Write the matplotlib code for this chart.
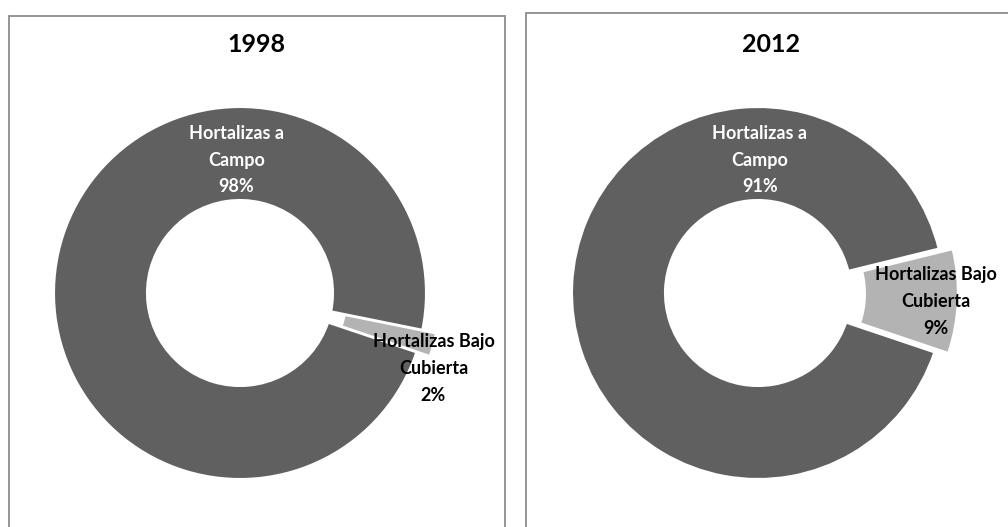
import matplotlib
matplotlib.use("Agg")
import matplotlib.pyplot as plt
import matplotlib.patches as mpatches

plt.rcParams['font.family'] = ['Lato', 'DejaVu Sans']

# data
years = ['1998', '2012']
categories = ['Hortalizas a\nCampo', 'Hortalizas Bajo\nCubierta']
shares = {
	'1998': [98, 2],
	'2012': [91, 9],
}

colors = ['#606060', '#b3b3b3']
W, H = 1008, 527

fig = plt.figure(figsize=(W / 100, H / 100), dpi=100)


def fx(px):
	return px / W


def fy(py):
	# py measured from top
	return 1 - py / H


# panel frames (pixel coords)
panels = [
	{'x0': 9, 'x1': 505, 'top': 16, 'cx': 240, 'title_x': 256},
	{'x0': 526, 'x1': 1016, 'top': 13, 'cx': 758, 'title_x': 771},
]
cy = 293
R = 186  # outer radius in px
L = 1.25  # data half-range
S = 2 * L * R

label_pos = {
	'1998': [(-0.02, 0.715), (1.04, -0.405)],
	'2012': [(0.01, 0.715), (0.957, -0.045)],
}

for year, p in zip(years, panels):
	fig.add_artist(mpatches.Rectangle((fx(p['x0']), fy(H + 10)), fx(p['x1'] - p['x0']), (H + 10 - p['top']) / H,
	                                  transform=fig.transFigure, facecolor='none', edgecolor='#8c8c8c',
	                                  lw=1.3, clip_on=False))
	fig.text(fx(p['title_x']), fy(44), year, ha='center', va='center', fontsize=18, fontweight='bold', color='black')

	ax = fig.add_axes([fx(p['cx'] - S / 2), fy(cy + S / 2), S / W, S / H])
	ax.set_xlim(-L, L)
	ax.set_ylim(-L, L)
	ax.set_aspect('equal')
	ax.axis('off')

	vals = shares[year]
	ax.pie(vals, colors=colors, startangle=-18.6, counterclock=False, explode=[0, 0.075], radius=1,
	       wedgeprops=dict(width=0.5, edgecolor='white', linewidth=1.5))

	for i, (lx, ly) in enumerate(label_pos[year]):
		txt = f"{categories[i]}\n{vals[i]}%"
		ax.text(lx, ly, txt, ha='center', va='center', fontsize=13, fontweight='bold',
		        color='white' if i == 0 else 'black', linespacing=1.7)

fig.savefig('out.png', dpi=100)
